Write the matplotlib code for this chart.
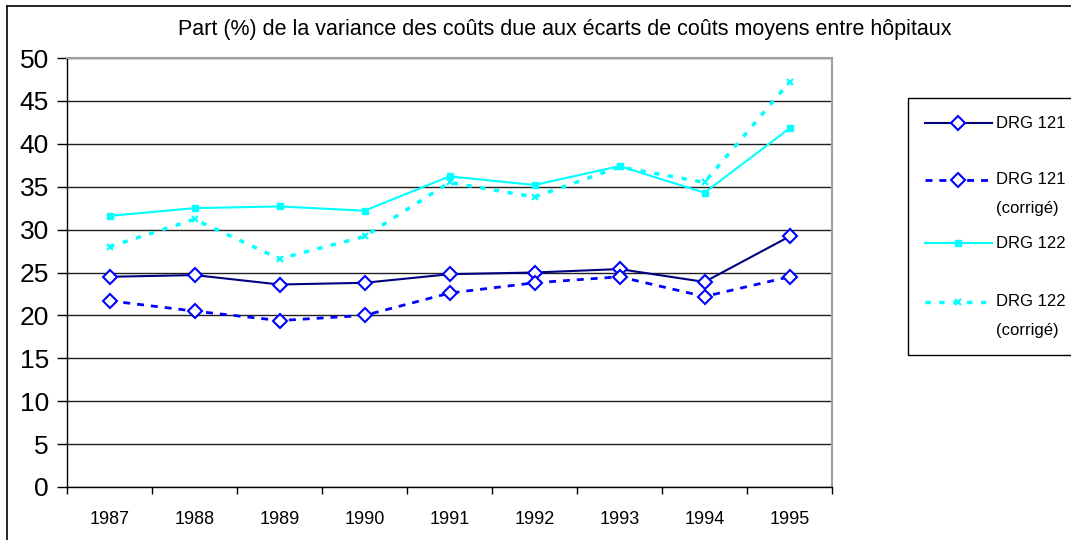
import matplotlib
matplotlib.use("Agg")
import matplotlib.pyplot as plt
from matplotlib.lines import Line2D
from matplotlib.patches import Rectangle
import numpy as np

plt.rcParams['font.family'] = ['Liberation Sans', 'DejaVu Sans']

years = ['1987', '1988', '1989', '1990', '1991', '1992', '1993', '1994', '1995']
drg121 = [24.5, 24.7, 23.6, 23.8, 24.8, 25.0, 25.4, 23.9, 29.2]
drg121_corr = [21.7, 20.5, 19.4, 20.0, 22.6, 23.8, 24.5, 22.2, 24.5]
drg122 = [31.6, 32.5, 32.7, 32.2, 36.2, 35.2, 37.4, 34.3, 41.8]
drg122_corr = [28.0, 31.2, 26.6, 29.2, 35.5, 33.8, 37.3, 35.5, 47.2]
labels = ['DRG 121', 'DRG 121\n(corrigé)', 'DRG 122', 'DRG 122\n(corrigé)']
title = 'Part (%) de la variance des coûts due aux écarts de coûts moyens entre hôpitaux'

W, H = 1071, 540
fig = plt.figure(figsize=(W / 100, H / 100), dpi=100)
ax = fig.add_axes([67 / W, 1 - 487 / H, (832 - 67) / W, (487 - 58) / H])

x = np.arange(len(years))
styles = [
    dict(color='#000080', ls='-', lw=1.5, marker='D', ms=7, mfc='white', mec='#0000FF', mew=1.5),
    dict(color='#0000FF', ls=(0, (2.5, 2.5)), lw=2, marker='D', ms=7, mfc='white', mec='#0000FF', mew=1.5),
    dict(color='#00FFFF', ls='-', lw=1.5, marker='s', ms=4, mfc='#00FFFF', mec='#00FFFF'),
    dict(color='#00FFFF', ls=(0, (1.5, 2.5)), lw=2.5, marker='x', ms=4, mfc='#00FFFF', mec='#00FFFF', mew=1.5),
]
series = [drg121, drg121_corr, drg122, drg122_corr]
for s, st in zip(series, styles):
    ax.plot(x, s, **st, clip_on=False, zorder=3)

ax.set_xlim(-0.5, len(years) - 0.5)
ax.set_ylim(0, 50)
ax.set_yticks(np.arange(0, 51, 5))
ax.set_xticks(x)
ax.set_xticklabels(years, fontsize=13)
ax.set_xticks(np.arange(-0.5, len(years), 1), minor=True)
ax.tick_params(axis='x', which='major', length=0, pad=17)
ax.tick_params(axis='x', which='minor', length=5, width=1, direction='out')
ax.tick_params(axis='y', length=7, width=1, direction='out', labelsize=19, pad=6)
ax.yaxis.grid(True, color='#202020', lw=1)
ax.set_axisbelow(True)
for sp in ['top', 'right']:
    ax.spines[sp].set_color('#a0a0a0')
    ax.spines[sp].set_linewidth(1.5)
for sp in ['left', 'bottom']:
    ax.spines[sp].set_color('black')
    ax.spines[sp].set_linewidth(1)

fig.text(565 / W, 1 - 30 / H, title, ha='center', va='center', fontsize=15.5)

# outer chart border (clipped at right/bottom)
fig.add_artist(Line2D([7 / W, 7 / W], [0, 1 - 6 / H], color='black', lw=1.2, transform=fig.transFigure))
fig.add_artist(Line2D([7 / W, 1], [1 - 6 / H, 1 - 6 / H], color='black', lw=1.2, transform=fig.transFigure))

# legend
fig.add_artist(Rectangle((908 / W, 1 - 355 / H), (1080 - 908) / W, (355 - 98) / H,
                         transform=fig.transFigure, fill=False, ec='black', lw=1))
ys = [123, 180, 243, 302]
for yy, st, lab in zip(ys, styles, labels):
    yf = 1 - yy / H
    fig.add_artist(Line2D([925 / W, 992 / W], [yf, yf], color=st['color'], ls=st['ls'], lw=st['lw'],
                          transform=fig.transFigure))
    fig.add_artist(Line2D([958 / W], [yf], marker=st['marker'], ms=st['ms'], mfc=st['mfc'],
                          mec=st['mec'], mew=st.get('mew', 1), ls='none', transform=fig.transFigure))
    fig.text(996 / W, yf, lab.split('\n')[0], ha='left', va='center', fontsize=12)
    if '\n' in lab:
        fig.text(996 / W, yf - 29 / H, lab.split('\n')[1], ha='left', va='center', fontsize=12)

fig.savefig('out.png', dpi=100)
